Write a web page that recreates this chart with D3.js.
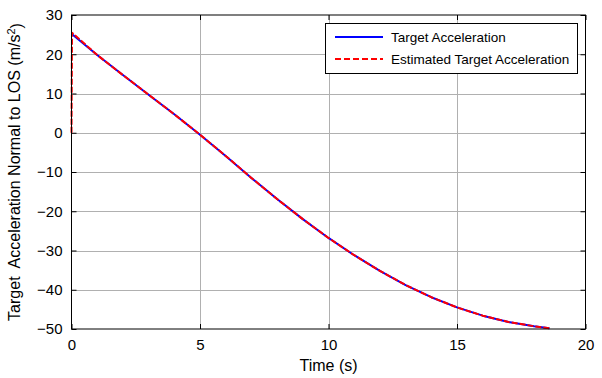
<!DOCTYPE html>
<html>
<head>
<meta charset="utf-8">
<script src="https://cdn.jsdelivr.net/npm/d3@7"></script>
<style>
  html, body { margin: 0; padding: 0; background: #fff; }
  svg { display: block; font-family: "Liberation Sans", Arial, sans-serif; }
</style>
</head>
<body>
<svg id="chart" width="602" height="378"></svg>
<script>
// ---- data ----
const timeTrue = [0, 1, 2, 3, 4, 5, 6, 7, 8, 9, 10, 11, 12, 13, 14, 15, 16, 17, 18, 18.6];
const accTrue  = [25.2, 19.8, 14.7, 9.7, 4.7, -0.5, -5.9, -11.5, -16.9, -22.0, -26.8, -31.2, -35.2, -38.8, -41.9, -44.5, -46.6, -48.2, -49.3, -49.8];
const timeEst  = [0, 0.02, 1, 2, 3, 4, 5, 6, 7, 8, 9, 10, 11, 12, 13, 14, 15, 16, 17, 18, 18.6];
const accEst   = [0, 25.5, 19.8, 14.7, 9.7, 4.7, -0.5, -5.9, -11.5, -16.9, -22.0, -26.8, -31.2, -35.2, -38.8, -41.9, -44.5, -46.6, -48.2, -49.3, -49.8];
const xTicks = [0, 5, 10, 15, 20];
const yTicks = [-50, -40, -30, -20, -10, 0, 10, 20, 30];
const seriesNames = ["Target Acceleration", "Estimated Target Acceleration"];
const xLabel = "Time (s)";

// ---- layout ----
const svg = d3.select("#chart");
const L = 71.5, R = 585.5, T = 15, B = 329;
const x = d3.scaleLinear().domain([0, 20]).range([L, R]);
const y = d3.scaleLinear().domain([-50, 30]).range([B, T]);

// grid
const grid = svg.append("g").attr("stroke", "#b0b0b0").attr("stroke-width", 1);
grid.selectAll("line.vx").data(xTicks.slice(1, -1)).enter().append("line")
  .attr("x1", d => Math.round(x(d)) + 0.5).attr("x2", d => Math.round(x(d)) + 0.5)
  .attr("y1", T).attr("y2", B);
grid.selectAll("line.hy").data(yTicks.slice(1, -1)).enter().append("line")
  .attr("y1", d => Math.round(y(d)) + 0.5).attr("y2", d => Math.round(y(d)) + 0.5)
  .attr("x1", L).attr("x2", R);

// axes with inward ticks
const tickLen = 5;
const fontTick = "15px";
const axB = svg.append("g").attr("transform", `translate(0,${B})`)
  .call(d3.axisBottom(x).tickValues(xTicks).tickSizeInner(-tickLen).tickSizeOuter(0).tickPadding(10));
const axT = svg.append("g").attr("transform", `translate(0,${T})`)
  .call(d3.axisTop(x).tickValues(xTicks).tickSizeInner(-tickLen).tickSizeOuter(0).tickFormat(""));
const axL = svg.append("g").attr("transform", `translate(${L},0)`)
  .call(d3.axisLeft(y).tickValues(yTicks).tickSizeInner(-tickLen).tickSizeOuter(0).tickPadding(9));
const axR = svg.append("g").attr("transform", `translate(${R},0)`)
  .call(d3.axisRight(y).tickValues(yTicks).tickSizeInner(-tickLen).tickSizeOuter(0).tickFormat(""));
[axB, axT, axL, axR].forEach(a => {
  a.select(".domain").remove();
  a.selectAll(".tick line").attr("stroke", "#000");
  a.selectAll("text").attr("fill", "#000").style("font-size", fontTick)
    .style("font-family", "'Liberation Sans', Arial, sans-serif");
});
axB.selectAll("text").attr("dy", "0.71em");

// lines
const line = d3.line().x(d => x(d[0])).y(d => y(d[1]));
svg.append("path").datum(timeTrue.map((t, i) => [t, accTrue[i]]))
  .attr("d", line).attr("fill", "none").attr("stroke", "#0000ff").attr("stroke-width", 2)
  .attr("stroke-linejoin", "round");
svg.append("path").datum(timeEst.map((t, i) => [t, accEst[i]]))
  .attr("d", line).attr("fill", "none").attr("stroke", "#ff0000").attr("stroke-width", 2)
  .attr("stroke-linejoin", "round").attr("stroke-dasharray", "6,2");

// box
svg.append("rect").attr("x", L).attr("y", T).attr("width", R - L).attr("height", B - T)
  .attr("fill", "none").attr("stroke", "#000").attr("stroke-width", 1);

// legend
const lg = svg.append("g");
lg.append("rect").attr("x", 325.5).attr("y", 23.5).attr("width", 252).attr("height", 50)
  .attr("fill", "#fff").attr("stroke", "#000").attr("stroke-width", 1);
const rows = [{name: seriesNames[0], color: "#0000ff", dash: null, yy: 37},
              {name: seriesNames[1], color: "#ff0000", dash: "6,3", yy: 59}];
rows.forEach(r => {
  lg.append("line").attr("x1", 335).attr("x2", 383).attr("y1", r.yy).attr("y2", r.yy)
    .attr("stroke", r.color).attr("stroke-width", 2).attr("stroke-dasharray", r.dash);
  lg.append("text").attr("x", 391).attr("y", r.yy + 5).text(r.name)
    .style("font-size", "13.5px").attr("fill", "#000");
});

// axis labels
svg.append("text").attr("x", (L + R) / 2).attr("y", 371).attr("text-anchor", "middle")
  .style("font-size", "16px").text(xLabel);
const yl = svg.append("text").attr("transform", `translate(20,${(T + B) / 2}) rotate(-90)`)
  .attr("text-anchor", "middle").style("font-size", "16px").style("white-space", "pre");
yl.append("tspan").text("Target  Acceleration Normal to LOS (m/s");
yl.append("tspan").attr("dy", "-0.45em").style("font-size", "11px").text("2");
yl.append("tspan").attr("dy", "0.45em").text(")");
</script>
</body>
</html>
